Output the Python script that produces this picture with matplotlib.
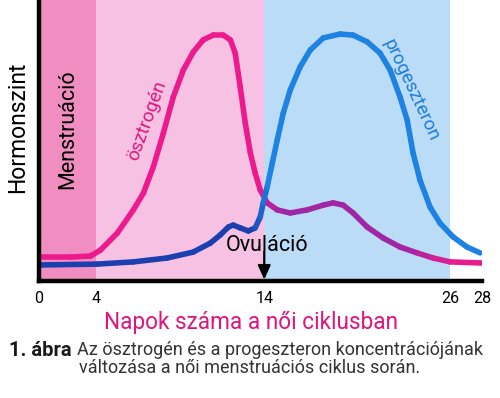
import numpy as np
import matplotlib
matplotlib.use("Agg")
import matplotlib.pyplot as plt
from matplotlib.collections import LineCollection
from matplotlib.colors import to_rgb

# --- data (day of cycle, relative hormone level 0-100) ---
tick_days = [0, 4, 14, 26, 28]
tick_labels = ["0", "4", "14", "26", "28"]

estrogen_day = [0, 2.2, 3.6, 4.24, 5.25, 6.2, 6.8, 7.39, 7.99, 8.58, 9.18, 9.77, 10.36,
                10.96, 11.56, 11.98, 12.27, 12.57, 12.87, 13.17, 13.46, 13.76, 14.19,
                14.84, 15.68, 16.77, 17.81, 18.45, 19.1, 19.74, 20.65, 21.68, 22.77,
                23.87, 24.9, 26.0, 28.0]
estrogen_lvl = [8.5, 8.5, 8.9, 11.0, 17.1, 25.3, 31.3, 40.6, 52.7, 65.5, 75.1, 81.5, 85.8,
                87.5, 87.5, 85.8, 81.1, 69.0, 56.2, 45.6, 38.4, 32.4, 27.8,
                25.3, 24.2, 25.3, 27.0, 27.8, 27.0, 24.2, 19.2, 15.3, 12.1,
                10.0, 8.2, 6.8, 6.4]

progest_day = [0, 4.0, 6.2, 8.23, 9.77, 10.79, 11.38, 11.86, 12.15, 12.57, 13.05, 13.46,
               13.76, 13.94, 14.19, 14.52, 14.84, 15.23, 15.68, 16.32, 16.97, 17.81,
               18.9, 19.74, 20.65, 21.48, 22.13, 22.77, 23.23, 23.61, 24.06, 24.71,
               25.35, 26.19, 27.06, 27.88]
progest_lvl = [5.7, 6.0, 6.8, 8.2, 10.3, 13.5, 16.4, 19.2, 19.9, 18.9, 17.8, 18.9,
               22.8, 27.8, 33.5, 42.0, 50.2, 59.8, 68.0, 76.2, 82.2, 86.5,
               87.9, 87.5, 85.1, 81.1, 75.1, 65.5, 57.3, 45.6, 35.9, 26.3,
               20.6, 15.7, 12.1, 10.0]

# colour stops along the curves (day, colour)
estrogen_stops = [(0, "#ec1a8c"), (13.6, "#ec1a8c"), (15.0, "#a126a6"),
                  (23.0, "#a126a6"), (26.5, "#e81d8e"), (28, "#ec1a8c")]
progest_stops = [(0, "#1c3fb0"), (13.3, "#1c3fb0"), (14.3, "#1e82e2"), (28, "#1e82e2")]

phases = [(0, 4, "#f08ec1"), (4, 14, "#f6c1e2"), (14, 26, "#badcf6")]

# non-linear day axis as drawn in the figure
axis_px = [0, 58, 226, 412, 444]


def fwd(d):
    return np.interp(d, tick_days, axis_px)


def inv(p):
    return np.interp(p, axis_px, tick_days)


def gradient_line(ax, x, y, stops, lw):
    x = np.asarray(x, float)
    y = np.asarray(y, float)
    pts = np.column_stack([x, y]).reshape(-1, 1, 2)
    segs = np.concatenate([pts[:-1], pts[1:]], axis=1)
    mid = (x[:-1] + x[1:]) / 2
    sd = [s[0] for s in stops]
    rgb = np.array([to_rgb(s[1]) for s in stops])
    cols = np.column_stack([np.interp(mid, sd, rgb[:, i]) for i in range(3)])
    lc = LineCollection(segs, colors=cols, linewidths=lw, capstyle="round",
                        joinstyle="round", zorder=3)
    ax.add_collection(lc)


plt.rcParams["font.family"] = ["Roboto", "DejaVu Sans"]

W, H = 500, 398
fig = plt.figure(figsize=(W / 100, H / 100), dpi=100)
ax = fig.add_axes([38.5 / W, 1 - 281 / H, (482 - 38.5) / W, 281 / H])
ax.set_xscale("function", functions=(fwd, inv))
ax.set_xlim(0, 28)
ax.set_ylim(0, 100)

for a, b, c in phases:
    ax.axvspan(a, b, color=c, lw=0, zorder=0)

gradient_line(ax, estrogen_day, estrogen_lvl, estrogen_stops, 4.0)
gradient_line(ax, progest_day, progest_lvl, progest_stops, 4.0)

for s in ["top", "right"]:
    ax.spines[s].set_visible(False)
for s in ["left", "bottom"]:
    ax.spines[s].set_linewidth(3.2)
    ax.spines[s].set_color("black")
    ax.spines[s].set_zorder(5)

ax.set_yticks([])
ax.set_xticks(tick_days)
ax.set_xticklabels(tick_labels)
ax.tick_params(axis="x", length=0, pad=7, labelsize=11.5)

ax.text(2.0, 54, "Menstruáció", rotation=90, ha="center", va="center", fontsize=15.5)
ax.text(7.0, 57, "ösztrogén", rotation=70, ha="center", va="center",
        fontsize=13.5, color="#e0157f")
ax.text(23.5, 68, "progeszteron", rotation=-65, ha="center", va="center",
        fontsize=13.5, color="#1e7ed8")
ax.text(14.2, 12.8, "Ovuláció", ha="center", va="center", fontsize=15.5, zorder=6)
ax.annotate("", xy=(14, 0.5), xytext=(14, 10.5),
            arrowprops=dict(arrowstyle="-|>,head_width=0.38,head_length=0.85",
                            color="black", lw=1.6, shrinkA=0, shrinkB=0), zorder=6)

fig.text(18 / W, 1 - 127 / H, "Hormonszint", rotation=90, ha="center", va="center",
         fontsize=16.5)
fig.text(251 / W, 1 - 323 / H, "Napok száma a női ciklusban", ha="center", va="center",
         fontsize=16.3, color="#df1580")
fig.text(72 / W, 1 - 350 / H, "1. ábra", ha="right", va="center", fontsize=14.5,
         fontweight="bold", color="#1a1a1a")
fig.text(77 / W, 1 - 350 / H, "Az ösztrogén és a progeszteron koncentrációjának",
         ha="left", va="center", fontsize=13.0, color="#333333")
fig.text(250 / W, 1 - 368 / H, "változása a női menstruációs ciklus során.",
         ha="center", va="center", fontsize=13.0, color="#333333")

fig.savefig("out.png", dpi=100)
